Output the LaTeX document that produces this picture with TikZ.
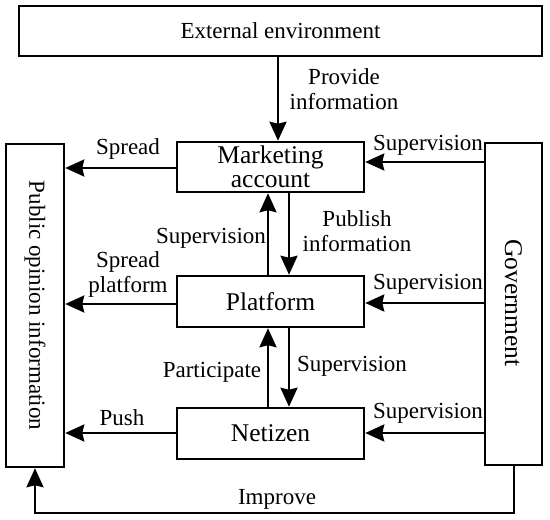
\documentclass[tikz,border=0pt]{standalone}
\usepackage{fontspec}
\setmainfont{Liberation Serif}
\usetikzlibrary{arrows.meta}
\begin{document}
\begin{tikzpicture}[x=1pt,y=-1pt,
  every node/.style={font=\fontsize{23}{25}\selectfont, inner sep=0pt},
  big/.style={font=\fontsize{25.5}{24}\selectfont},
  box/.style={draw, line width=2.5pt},
  arr/.style={line width=2.5pt, -{Stealth[length=19pt,width=17pt,inset=2pt]}},
  lbl/.style={align=center}]
\useasboundingbox (0,0) rectangle (550,520);
% boxes
\node[box, minimum width=523pt, minimum height=50pt] (ext) at (280.5,31) {External environment};
\node[box, big, minimum width=187pt, minimum height=50pt, align=center] (mkt) at (270.5,167) {Marketing\\account};
\node[box, big, minimum width=187pt, minimum height=51pt] (plat) at (270.5,301.5) {Platform};
\node[box, big, minimum width=187pt, minimum height=51pt] (net) at (270.5,433.5) {Netizen};
\node[box, minimum width=58pt, minimum height=323pt] (pub) at (35,305.5) {};
\node[rotate=-90] (publbl) at (35,305.5) {Public opinion information};
\node[box, minimum width=57pt, minimum height=322pt] (gov) at (513.5,304) {};
\node[big, rotate=-90] (govlbl) at (513.5,303) {Government};
% connectors
\draw[arr] (278,0 |- ext.south) -- (278,0 |- mkt.north);
\draw[arr] (mkt.west |- 0,168) -- (pub.east |- 0,168);
\draw[arr] (gov.west |- 0,162) -- (mkt.east |- 0,162);
\draw[arr] (plat.north -| 268,0) -- (mkt.south -| 268,0);
\draw[arr] (mkt.south -| 289,0) -- (plat.north -| 289,0);
\draw[arr] (plat.west |- 0,304) -- (pub.east |- 0,304);
\draw[arr] (gov.west |- 0,303) -- (plat.east |- 0,303);
\draw[arr] (net.north -| 268,0) -- (plat.south -| 268,0);
\draw[arr] (plat.south -| 289,0) -- (net.north -| 289,0);
\draw[arr] (net.west |- 0,433) -- (pub.east |- 0,433);
\draw[arr] (gov.west |- 0,433) -- (net.east |- 0,433);
\coordinate (c1) at (514,513);
\coordinate (c2) at (35,513);
\draw[arr] (gov.south -| c1) -- (c1) -- (c2) -- (pub.south);
% labels
\node[lbl] (lprov) at (344,89) {Provide\\information};
\node (lspread1) at (128,149) {Spread};
\node (lsup1) at (428,145) {Supervision};
\node (lsup2) at (211,238) {Supervision};
\node[lbl] (lpubl) at (357,231) {Publish\\information};
\node[lbl] (lspread2) at (128,274) {Spread\\platform};
\node (lsup3) at (428,284) {Supervision};
\node (lpart) at (212,372) {Participate};
\node (lsup4) at (352,366) {Supervision};
\node (lpush) at (122,418) {Push};
\node (lsup5) at (428,413) {Supervision};
\node (limp) at (277,499) {Improve};
\end{tikzpicture}
\end{document}
